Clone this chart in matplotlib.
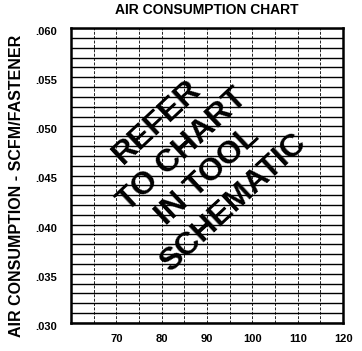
import matplotlib.pyplot as plt
import matplotlib.transforms as mtransforms
from matplotlib.ticker import MultipleLocator

# --- dados do grafico ---
x_min, x_max = 60, 120
y_min, y_max = 0.030, 0.060
x_ticks = [70, 80, 90, 100, 110, 120]
y_ticks = [0.030, 0.035, 0.040, 0.045, 0.050, 0.055, 0.060]
x_grid_step = 5
y_grid_step = 0.001

title = 'AIR CONSUMPTION CHART'
y_label = 'AIR CONSUMPTION - SCFM/FASTENER'
stamp = 'REFER\nTO CHART\nIN TOOL\nSCHEMATIC'

plt.rcParams['font.family'] = ['Liberation Sans', 'DejaVu Sans']

fig = plt.figure(figsize=(3.62, 3.51), dpi=100)
ax = fig.add_axes([0.196, 0.080, 0.752, 0.840])

ax.set_xlim(x_min, x_max)
ax.set_ylim(y_min, y_max)
ax.set_xticks(x_ticks)
ax.set_yticks(y_ticks)
ax.xaxis.set_minor_locator(MultipleLocator(x_grid_step))
ax.yaxis.set_minor_locator(MultipleLocator(y_grid_step))
ax.set_yticklabels([('%.3f' % v)[1:] for v in y_ticks])

# grade: horizontais continuas, verticais tracejadas
ax.grid(True, axis='y', which='both', color='black', linewidth=1.0, linestyle='-')
ax.grid(True, axis='x', which='both', color='#222222', linewidth=0.7, linestyle=(0, (3, 1.5)))

ax.tick_params(which='both', length=0)
ax.tick_params(axis='y', pad=10, labelsize=8)
ax.tick_params(axis='x', pad=8, labelsize=8)
for lbl in ax.get_xticklabels() + ax.get_yticklabels():
    lbl.set_fontweight('bold')

# rotulos do eixo y um pouco abaixo das linhas, como no original
shift = mtransforms.ScaledTranslation(0, -0.03, fig.dpi_scale_trans)
for lbl in ax.get_yticklabels():
    lbl.set_transform(lbl.get_transform() + shift)

for sp in ax.spines.values():
    sp.set_linewidth(1.8)
    sp.set_color('black')

ax.set_title(title, fontsize=10, fontweight='bold', pad=10)
fig.text(0.045, 0.47, y_label, rotation=90, ha='center', va='center',
         fontsize=11.5, fontweight='bold')

ax.text(0.456, 0.542, stamp, transform=ax.transAxes, rotation=43,
        ha='center', va='center', multialignment='center',
        fontsize=23, fontweight='bold', linespacing=1.3,
        rotation_mode='anchor')

plt.savefig('out.png', dpi=100)
